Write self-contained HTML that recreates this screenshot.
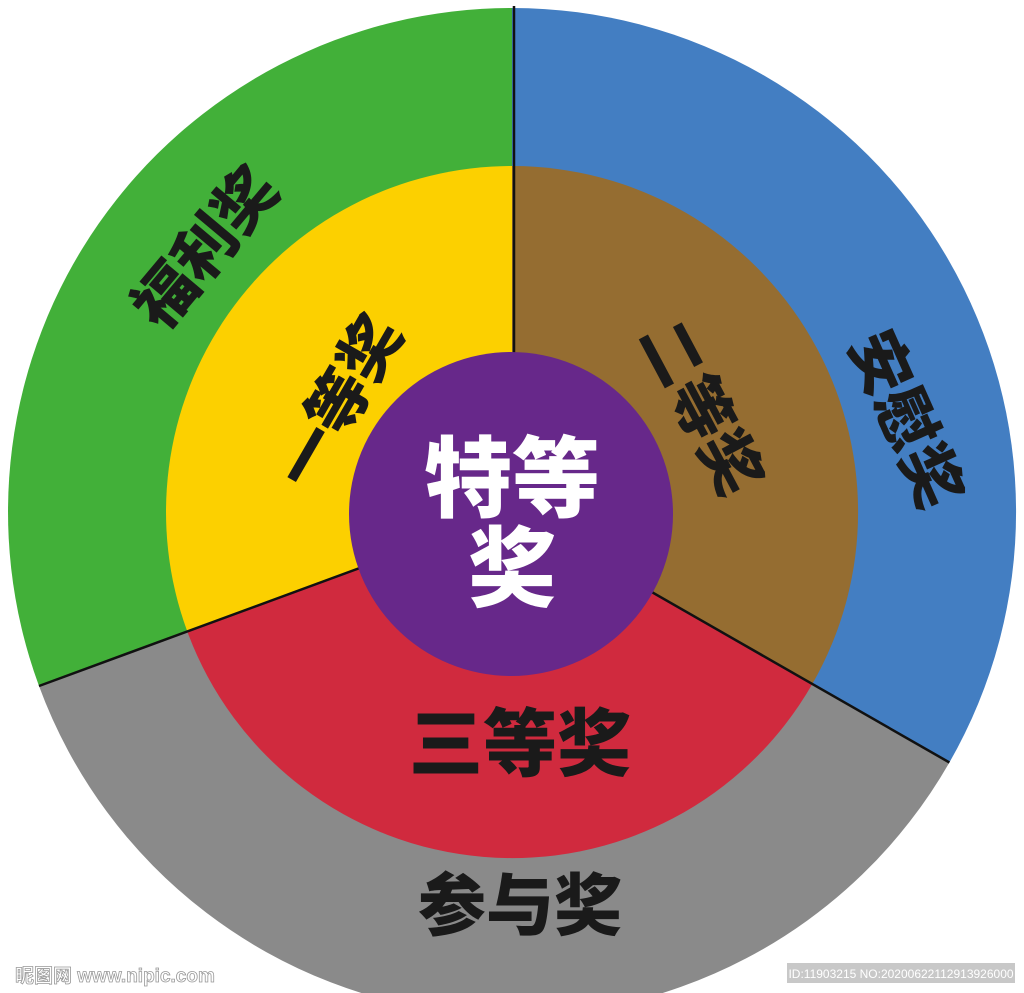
<!DOCTYPE html>
<html><head><meta charset="utf-8"><style>
html,body{margin:0;padding:0;background:#fff;width:1024px;height:993px;overflow:hidden}
text{font-family:"Liberation Sans","Noto Sans CJK SC",sans-serif;font-weight:900}
</style></head><body>
<svg width="1024" height="993" viewBox="0 0 1024 993" xmlns="http://www.w3.org/2000/svg">
<path d="M512,512 L39,686 A504,504 0 0 1 512,8 Z" fill="#42b039"/>
<path d="M512,512 L512,8 A504,504 0 0 1 949.4,762.5 Z" fill="#437ec2"/>
<path d="M512,512 L949.4,762.5 A504,504 0 0 1 39,686 Z" fill="#8a8a8a"/>
<path d="M512,512 L187.3,631.5 A346,346 0 0 1 512,166 Z" fill="#fcd000"/>
<path d="M512,512 L512,166 A346,346 0 0 1 812.3,684 Z" fill="#956d31"/>
<path d="M512,512 L812.3,684 A346,346 0 0 1 187.3,631.5 Z" fill="#d02a3e"/>
<g stroke="#111" stroke-width="2.5">
<line x1="514" y1="512" x2="514" y2="6"/>
<line x1="512" y1="512" x2="949.4" y2="762.5"/>
<line x1="512" y1="512" x2="39" y2="686"/>
</g>
<circle cx="511" cy="514" r="162" fill="#67288a"/>
<g fill="#1a1a1a" font-size="62" text-anchor="middle">
<text transform="translate(222,262) rotate(-50)">福利奖</text>
<text transform="translate(358,413) rotate(-60)">一等奖</text>
<text transform="translate(682,418) rotate(62)">二等奖</text>
<text transform="translate(886,428) rotate(66)">安慰奖</text>
<text x="520" y="770" font-size="74">三等奖</text>
<text x="520" y="930" font-size="68">参与奖</text>
</g>
<g fill="#fff" text-anchor="middle" font-size="88">
<text x="512" y="510">特等</text>
<text x="512" y="600">奖</text>
</g>
<text x="15" y="982" font-size="19" fill="#fff" stroke="#999" stroke-width="0.8" style="font-weight:700">昵图网 www.nipic.com</text>
<rect x="787" y="963" width="228" height="20" fill="#c8c8c8"/>
<text x="901" y="978" font-size="12" fill="#fff" text-anchor="middle" style="font-weight:400">ID:11903215 NO:20200622112913926000</text>
</svg>
</body></html>
